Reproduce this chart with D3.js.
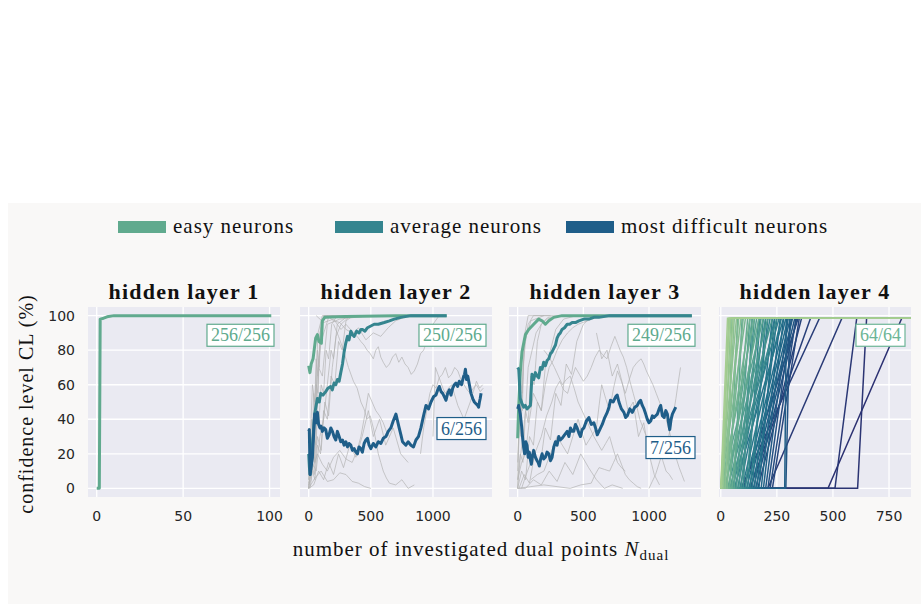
<!DOCTYPE html>
<html><head><meta charset="utf-8">
<script src="https://cdn.jsdelivr.net/npm/d3@7"></script>
<style>body{margin:0;background:#fff;} svg{display:block;}</style>
</head><body>
<svg id="chart" width="921" height="604"></svg>
<script>
// ---------- data ----------
const legendLabels = ["easy neurons", "average neurons", "most difficult neurons"];
const legendColors = ["#60aa8e", "#35858f", "#1f5e89"];
const panelTitles = ["hidden layer 1", "hidden layer 2", "hidden layer 3", "hidden layer 4"];
const yTicks = [0, 20, 40, 60, 80, 100];
const xTicks1 = [0, 50, 100];
const xTicks2 = [0, 500, 1000];
const xTicks3 = [0, 500, 1000];
const xTicks4 = [0, 250, 500, 750];

// panel 1 (easy only)
const p1EasyX = [0, 1.5, 2, 4, 6, 10, 20, 50, 101];
const p1EasyY = [0, 0, 98, 98.5, 99.3, 100, 100, 100, 100];

// panel 2
const p2EasyX = [0, 10, 20, 35, 56, 70, 83, 102, 110, 129, 300, 700, 1110];
const p2EasyY = [71, 67, 72, 75, 87, 89, 85, 84, 97, 99, 99.5, 100, 100];
const p2AvgX = [0, 6, 12, 30, 48, 60, 70, 85, 97, 115, 137, 155, 177, 190, 204, 218, 231, 245, 258, 272, 285, 298, 312, 325, 339, 352, 366, 386, 406, 420, 433, 453, 473, 500, 527, 560, 608, 650, 688, 742, 823, 1110];
const p2AvgY = [20, 12, 8, 25, 43, 48, 52, 50, 55, 54, 56, 58, 59, 57, 61, 60, 63, 62, 67, 72, 79, 84, 88, 86, 91, 89, 88, 91, 90, 92, 92, 91, 93, 94, 95, 95, 96, 97, 98, 99, 100, 100];
const p2HardX = [0, 5, 11, 30, 48, 60, 70, 80, 91, 100, 110, 123, 137, 150, 164, 178, 191, 204, 218, 231, 245, 258, 272, 285, 299, 312, 325, 339, 352, 366, 379, 392, 405, 419, 432, 446, 460, 473, 486, 500, 520, 540, 560, 581, 600, 621, 640, 661, 680, 702, 715, 728, 742, 755, 768, 782, 800, 823, 843, 863, 883, 903, 924, 944, 964, 984, 1004, 1024, 1038, 1051, 1065, 1078, 1092, 1105, 1118, 1132, 1145, 1159, 1172, 1185, 1198, 1212, 1230, 1247, 1254, 1261, 1270, 1280, 1293, 1306, 1320, 1333, 1346, 1360, 1367, 1374, 1380, 1387];
const p2HardY = [33, 34, 8, 18, 43, 38, 44, 37, 35, 36, 33, 35, 34, 29, 31, 35, 33, 30, 28, 33, 30, 27, 28, 25, 27, 24, 26, 25, 22, 23, 21, 20, 24, 23, 21, 26, 28, 29, 25, 23, 26, 24, 27, 26, 29, 30, 33, 35, 39, 43, 39, 35, 31, 27, 26, 25, 27, 25, 24, 28, 30, 35, 42, 48, 46, 50, 53, 54, 57, 59, 56, 55, 53, 51, 55, 57, 54, 58, 60, 61, 59, 62, 60, 65, 66, 69, 63, 65, 60, 55, 52, 50, 49, 48, 47, 50, 52, 55];
const p2Gray = [
  [[0,0],[30,20],[45,15],[60,60],[75,55],[90,90],[120,98],[200,100],[400,100]],
  [[0,5],[20,12],[40,30],[60,25],[80,70],[110,65],[150,95],[250,98],[500,100]],
  [[0,0],[30,15],[60,10],[90,30],[120,40],[150,60],[180,80],[200,75],[230,95],[300,99],[600,100]],
  [[0,10],[25,30],[50,40],[75,70],[100,85],[130,92],[160,99],[300,100]],
  [[150,100],[200,97],[250,96],[300,92],[350,90],[390,88],[420,85],[445,83],[470,80],[495,78],[520,75],[540,80],[560,82],[580,76],[600,73],[625,70],[650,72],[675,76],[700,78],[725,73],[750,76],[775,72],[800,70],[825,66],[850,68],[875,72],[900,78],[925,80],[950,85],[975,90],[1000,95],[1050,100]],
  [[200,95],[240,88],[280,80],[320,70],[360,62],[390,58],[420,50],[445,46],[470,40],[495,42],[520,35],[540,28],[560,20],[580,15],[600,10],[625,6],[650,3],[700,2],[750,5],[800,0],[850,2]],
  [[900,20],[925,35],[950,45],[975,55],[1000,60],[1025,58],[1050,64],[1075,66],[1100,70],[1125,64],[1150,66],[1175,70],[1200,68],[1225,63],[1250,60],[1275,57],[1300,55],[1325,58],[1350,60],[1380,56],[1405,58]],
  [[1000,30],[1010,50],[1020,70],[1040,66],[1060,62],[1080,58],[1100,55],[1125,58],[1150,60],[1175,54],[1200,48],[1225,44],[1250,40],[1275,45],[1300,50],[1325,56],[1350,62],[1375,58],[1400,60]],
  [[0,0],[50,6],[100,10],[150,4],[200,5],[250,9],[300,8],[350,4],[400,3],[450,1],[500,0]],
  [[0,3],[35,12],[70,20],[110,14],[150,10],[200,18],[250,22],[300,17],[350,15],[390,22],[420,30],[450,42],[480,55],[510,50],[540,45],[570,42],[600,38],[625,33],[650,30]],
  [[0,0],[15,30],[25,10],[40,55],[55,40],[70,80],[85,70],[100,95],[130,99],[200,100]],
  [[0,2],[20,5],[35,25],[50,15],[65,45],[80,35],[100,60],[120,55],[140,80],[160,75],[185,95],[220,99],[300,100]],
  [[0,8],[25,40],[40,30],[60,75],[75,65],[95,92],[120,100],[250,100]],
  [[10,0],[30,10],[50,5],[70,25],[95,20],[120,45],[150,40],[180,65],[210,60],[240,85],[270,80],[300,97],[360,100]],
  [[0,0],[20,15],[45,8],[70,30],[100,22],[130,50],[160,42],[190,70],[220,88],[260,95],[320,99],[450,100]],
  [[0,5],[30,60],[50,50],[75,90],[110,100],[200,100]],
  [[0,0],[40,2],[80,10],[120,5],[160,15],[200,8],[240,20],[280,12],[330,25],[380,18],[430,30],[480,45],[520,30],[570,40],[620,25],[680,35],[740,20],[800,15]],
  [[60,100],[120,96],[200,98],[260,92],[300,95],[360,90],[400,93],[460,86],[520,90],[580,88],[640,93],[700,97],[800,100]]
];

// panel 3
const p3EasyX = [0, 8, 20, 33, 59, 84, 122, 160, 186, 211, 237, 275, 338, 700, 1326];
const p3EasyY = [29, 48, 67, 79, 89, 92, 95, 98, 97, 95, 97, 99, 100, 100, 100];
const p3AvgX = [0, 8, 20, 33, 46, 58, 71, 84, 97, 109, 122, 135, 148, 160, 173, 186, 198, 211, 224, 237, 250, 262, 275, 288, 300, 313, 325, 338, 357, 377, 396, 415, 440, 466, 504, 542, 580, 618, 700, 771, 1326];
const p3AvgY = [70, 69, 52, 49, 47, 48, 46, 47, 48, 66, 63, 67, 65, 64, 70, 69, 73, 71, 74, 75, 78, 79, 81, 83, 87, 89, 90, 92, 93, 95, 95, 96, 96, 97, 98, 98, 99, 99, 100, 100, 100];
const p3HardX = [0, 8, 20, 30, 38, 45, 53, 62, 71, 80, 89, 96, 104, 113, 122, 135, 148, 156, 165, 175, 186, 198, 211, 224, 237, 250, 262, 275, 288, 300, 313, 325, 338, 357, 377, 390, 402, 415, 427, 440, 453, 466, 478, 491, 504, 523, 542, 561, 580, 593, 606, 625, 644, 663, 682, 695, 707, 727, 746, 758, 771, 790, 809, 822, 835, 854, 873, 892, 911, 924, 936, 949, 962, 975, 987, 1000, 1013, 1026, 1038, 1051, 1064, 1077, 1089, 1102, 1115, 1128, 1140, 1149, 1158, 1168, 1178, 1191, 1204];
const p3HardY = [46, 48, 43, 36, 29, 24, 20, 27, 25, 18, 21, 17, 14, 19, 22, 18, 16, 15, 13, 17, 20, 17, 18, 21, 20, 16, 18, 24, 27, 25, 30, 28, 29, 31, 33, 30, 35, 33, 33, 37, 35, 32, 30, 34, 35, 39, 41, 37, 38, 35, 31, 34, 37, 41, 44, 47, 51, 50, 53, 54, 50, 46, 44, 41, 42, 46, 44, 47, 48, 50, 51, 48, 46, 43, 40, 38, 39, 42, 41, 42, 43, 46, 48, 42, 41, 45, 43, 38, 34, 40, 43, 45, 47];
const p3Gray = [
  [[0,10],[20,50],[35,45],[50,85],[75,90],[100,97],[200,100],[400,100]],
  [[0,0],[20,18],[40,30],[60,45],[80,70],[110,80],[140,90],[180,95],[220,98],[350,100]],
  [[0,5],[30,15],[60,20],[90,40],[120,55],[150,50],[180,45],[210,60],[240,70],[270,74],[300,80],[340,86],[380,90],[420,93],[460,95],[530,97],[600,99],[800,100]],
  [[30,0],[65,8],[100,15],[140,22],[180,30],[220,42],[260,50],[290,58],[320,62],[350,57],[380,55],[410,63],[440,70],[470,66],[500,62],[530,65],[560,70],[590,76],[620,80],[650,77],[680,75],[710,82],[740,88],[760,84],[780,80],[805,76],[830,70],[855,62],[880,55],[905,48],[930,40],[955,35],[980,30],[1005,24],[1030,20],[1055,23],[1080,25],[1105,16],[1130,10],[1155,8],[1180,5]],
  [[100,5],[150,8],[200,10],[250,20],[300,30],[340,25],[380,20],[420,30],[460,40],[490,32],[520,25],[560,30],[600,35],[620,48],[640,60],[670,52],[700,45],[730,58],[760,68],[790,62],[820,55],[850,63],[880,70],[910,73],[940,75],[960,72],[980,68],[1005,64],[1030,60],[1055,55],[1080,50],[1105,45],[1130,40],[1155,33],[1180,25],[1205,18],[1230,12],[1250,8],[1270,4]],
  [[0,0],[100,1],[200,2],[300,1],[400,0],[480,2],[560,3],[590,8],[620,12],[660,11],[700,10],[730,15],[760,20],[790,14],[820,8],[850,5],[880,3],[910,1],[940,0]],
  [[1000,0],[1025,4],[1050,8],[1075,14],[1100,20],[1125,25],[1150,30],[1170,38],[1190,45],[1205,52],[1220,60],[1230,65],[1240,70]],
  [[200,80],[240,76],[280,70],[310,65],[340,60],[370,63],[400,65],[430,58],[460,50],[490,45],[520,40],[550,35],[580,30],[610,26],[640,22],[670,26],[700,30],[730,22],[760,15],[790,12],[820,10]],
  [[0,0],[10,40],[25,30],[40,70],[60,85],[80,95],[120,100],[250,100]],
  [[0,5],[20,20],[40,15],[60,45],[80,38],[100,65],[125,60],[150,85],[180,95],[230,99],[350,100]],
  [[0,0],[30,10],[60,5],[90,30],[120,25],[150,50],[180,45],[210,70],[250,80],[290,92],[350,98],[450,100]],
  [[0,15],[20,65],[35,55],[55,90],[80,100],[200,100]],
  [[10,0],[50,8],[90,3],[130,20],[170,12],[210,35],[250,28],[290,55],[330,48],[370,72],[410,66],[450,85],[500,95],[560,99],[650,100]],
  [[0,0],[60,0],[120,5],[180,2],[240,10],[300,4],[360,15],[420,8],[480,20],[540,12],[600,5],[660,0],[720,2],[800,0]],
  [[600,90],[640,75],[680,80],[720,65],[760,72],[800,60],[840,45],[880,50],[920,30],[960,38],[1000,20],[1040,8],[1080,2]]
];

// panel 4: 64 neurons ordered easy -> difficult; x where CL leaves 0 and x where it reaches the top
const p4Start = [0,0,5,0,10,0,20,0,15,30,0,25,10,40,0,50,20,35,60,0,45,70,15,55,80,30,90,65,100,40,110,75,120,50,130,85,140,95,150,60,160,105,170,115,180,125,190,285,135,200,145,290,210,155,220,100,230,165,130,90,210,509,610,478];
const p4Rise  = [30,40,35,55,45,70,60,90,80,50,110,100,130,75,150,120,170,140,95,190,160,130,210,180,150,230,170,200,140,250,190,220,175,260,210,240,200,270,230,280,250,290,240,300,265,310,280,292,320,300,330,308,315,340,335,345,350,360,400,440,540,606,650,807];
const p4Top = 98.5;
const p4End = 870;

const boxLabels = [
  [{t:"256/256", y:95, c:"#60aa8e"}],
  [{t:"250/256", y:95, c:"#60aa8e"}, {t:"6/256", y:41, c:"#1f5e89"}],
  [{t:"249/256", y:95, c:"#60aa8e"}, {t:"7/256", y:30, c:"#1f5e89"}],
  [{t:"64/64", y:95, c:"#6db596"}]
];

// ---------- drawing ----------
const svg = d3.select("#chart");
const serif = "'Liberation Serif', 'Times New Roman', serif";
const sans = "'DejaVu Sans', sans-serif";
const tickColor = "#262626";

svg.append("rect").attr("x", 8).attr("y", 203).attr("width", 913).attr("height", 401).attr("fill", "#f9f8f7");

// legend
const legX = [118, 335, 566];
legendLabels.forEach((lab, i) => {
  svg.append("rect").attr("x", legX[i]).attr("y", 221).attr("width", 48).attr("height", 12).attr("fill", legendColors[i]);
  svg.append("text").attr("x", legX[i] + 55).attr("y", 233).text(lab)
    .attr("font-family", serif).attr("font-size", 21).attr("letter-spacing", 1).attr("fill", "#111");
});

const crest = d3.interpolateRgbBasis(["#a5cd90","#7dba91","#59a590","#40908e","#287a8c","#1c6488","#254b7f","#2c3172"]);

const panels = [
  {left: 88, domain: [-5.05, 106.05], ticks: xTicks1},
  {left: 300, domain: [-70, 1475], ticks: xTicks2},
  {left: 509, domain: [-66, 1396], ticks: xTicks3},
  {left: 719, domain: [-8, 848], ticks: xTicks4}
];
const pw = 192, plotTop = 307, plotBottom = 497;
const y = d3.scaleLinear().domain([-5, 105]).range([plotBottom, plotTop]);

panels.forEach((p, i) => {
  const x = d3.scaleLinear().domain(p.domain).range([p.left, p.left + pw]);
  const g = svg.append("g");
  g.append("rect").attr("x", p.left).attr("y", plotTop).attr("width", pw).attr("height", plotBottom - plotTop).attr("fill", "#eaeaf2");
  // grid
  g.selectAll(".gy").data(yTicks).enter().append("line")
    .attr("x1", p.left).attr("x2", p.left + pw).attr("y1", d => y(d)).attr("y2", d => y(d))
    .attr("stroke", "#fff").attr("stroke-width", 1.3);
  g.selectAll(".gx").data(p.ticks).enter().append("line")
    .attr("y1", plotTop).attr("y2", plotBottom).attr("x1", d => x(d)).attr("x2", d => x(d))
    .attr("stroke", "#fff").attr("stroke-width", 1.3);
  // x tick labels
  g.selectAll(".tx").data(p.ticks).enter().append("text")
    .attr("x", d => x(d)).attr("y", 521).attr("text-anchor", "middle")
    .attr("font-family", sans).attr("font-size", 14).attr("fill", tickColor).text(d => d);
  if (i === 0) {
    g.selectAll(".ty").data(yTicks).enter().append("text")
      .attr("x", 75).attr("y", d => y(d) + 5).attr("text-anchor", "end")
      .attr("font-family", sans).attr("font-size", 14).attr("fill", tickColor).text(d => d);
  }
  // title
  svg.append("text").attr("x", p.left + pw / 2).attr("y", 299).attr("text-anchor", "middle")
    .attr("font-family", serif).attr("font-weight", "bold").attr("font-size", 22).attr("letter-spacing", 1.2)
    .attr("fill", "#111").text(panelTitles[i]);

  const clipId = "clip" + i;
  svg.append("clipPath").attr("id", clipId).append("rect")
    .attr("x", p.left).attr("y", plotTop).attr("width", pw).attr("height", plotBottom - plotTop);
  const lg = g.append("g").attr("clip-path", `url(#${clipId})`);
  const line = d3.line().x(d => x(d[0])).y(d => y(d[1]));
  const zip = (a, b) => a.map((v, k) => [v, b[k]]);
  const drawMain = (xs, ys, col) => lg.append("path").datum(zip(xs, ys)).attr("d", line)
    .attr("fill", "none").attr("stroke", col).attr("stroke-width", 3).attr("stroke-linejoin", "round");
  const drawGray = arr => arr.forEach(ln => lg.append("path").datum(ln).attr("d", line)
    .attr("fill", "none").attr("stroke", "#b4b4b4").attr("stroke-opacity", 0.7).attr("stroke-width", 1));

  if (i === 0) {
    drawMain(p1EasyX, p1EasyY, legendColors[0]);
  } else if (i === 1) {
    drawGray(p2Gray);
    drawMain(p2EasyX, p2EasyY, legendColors[0]);
    drawMain(p2AvgX, p2AvgY, legendColors[1]);
    drawMain(p2HardX, p2HardY, legendColors[2]);
  } else if (i === 2) {
    drawGray(p3Gray);
    drawMain(p3EasyX, p3EasyY, legendColors[0]);
    drawMain(p3AvgX, p3AvgY, legendColors[1]);
    drawMain(p3HardX, p3HardY, legendColors[2]);
  } else {
    const n = p4Start.length;
    for (let k = n - 1; k >= 0; k--) {
      const pts = [[0, 0], [p4Start[k], 0], [p4Rise[k], p4Top], [p4End, p4Top]];
      lg.append("path").datum(pts).attr("d", line).attr("fill", "none")
        .attr("stroke", crest(k / (n - 1))).attr("stroke-width", 1.5);
    }
  }
  // annotation boxes
  boxLabels[i].forEach(b => {
    const t = g.append("text").attr("font-family", serif).attr("font-size", 18)
      .attr("fill", b.c).attr("text-anchor", "end").text(b.t);
    const right = p.left + pw - 10;
    const yy = y(b.y);
    t.attr("x", right).attr("y", yy + 17);
    const w = t.node().getComputedTextLength();
    g.insert("rect", () => t.node()).attr("x", right - w - 4).attr("y", yy).attr("width", w + 8).attr("height", 22)
      .attr("fill", "#fff").attr("stroke", b.c).attr("stroke-width", 1.2);
  });
});

// axis labels
svg.append("text").attr("transform", "translate(33,404) rotate(-90)").attr("text-anchor", "middle")
  .attr("font-family", serif).attr("font-size", 20).attr("letter-spacing", 1).attr("fill", "#111")
  .text("confidence level CL (%)");
const xl = svg.append("text").attr("x", 481).attr("y", 556).attr("text-anchor", "middle")
  .attr("font-family", serif).attr("font-size", 21).attr("letter-spacing", 1).attr("fill", "#111");
xl.append("tspan").text("number of investigated dual points ");
xl.append("tspan").attr("font-style", "italic").text("N");
xl.append("tspan").attr("font-size", 15).attr("dy", 4).text("dual");
</script>
</body></html>
